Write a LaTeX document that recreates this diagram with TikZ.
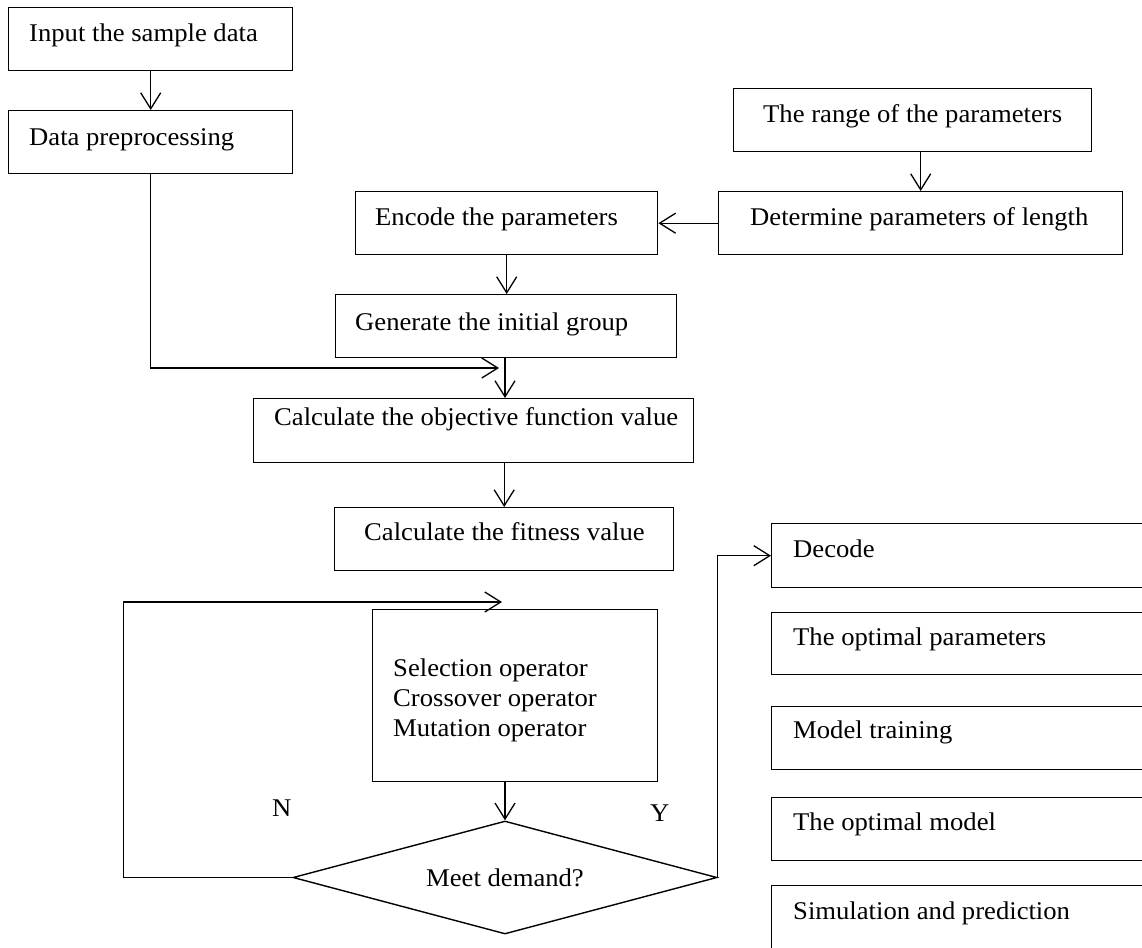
\documentclass[tikz,border=0pt]{standalone}
\usepackage{fontspec}
\setmainfont{Liberation Serif}[FakeStretch=1.045]
\usetikzlibrary{arrows.meta,shapes.geometric}
\begin{document}
\begin{tikzpicture}[x=1pt,y=-1pt,
  box/.style={draw,line width=1.4pt,anchor=north west,inner sep=0pt},
  lbl/.style={anchor=base west,inner sep=0pt,font=\fontsize{25.5}{30}\selectfont},
  arr/.style={line width=1.4pt,-{Straight Barb[length=16pt,width=20pt,line width=1.3pt]}},
  line/.style={line width=1.4pt}]
\useasboundingbox (0,0) rectangle (1142,947);
\clip (0,0) rectangle (1142,947);
% boxes
\node[box,minimum width=284pt,minimum height=63pt] (input) at (8,7) {};
\node[box,minimum width=284pt,minimum height=63pt] (data) at (8,110) {};
\node[box,minimum width=358pt,minimum height=63pt] (range) at (733,88) {};
\node[box,minimum width=404pt,minimum height=63pt] (det) at (718,191) {};
\node[box,minimum width=302pt,minimum height=63pt] (enc) at (355,191) {};
\node[box,minimum width=341pt,minimum height=63pt] (gen) at (335,294) {};
\node[box,minimum width=440pt,minimum height=64pt] (obj) at (253,398) {};
\node[box,minimum width=339pt,minimum height=63pt] (fit) at (334,507) {};
\node[box,minimum width=285pt,minimum height=172pt] (sel) at (372,609) {};
\node[box,minimum width=400pt,minimum height=64pt] (dec) at (771,523) {};
\node[box,minimum width=400pt,minimum height=62pt] (opt) at (771,612) {};
\node[box,minimum width=400pt,minimum height=63pt] (mt) at (771,706) {};
\node[box,minimum width=400pt,minimum height=63pt] (om) at (771,797) {};
\node[box,minimum width=400pt,minimum height=100pt] (sim) at (771,885) {};
\node[draw,line width=1.4pt,diamond,aspect=3.75,inner sep=0pt,minimum width=424pt,minimum height=113pt,
      font=\fontsize{25.5}{30}\selectfont] (dia) at (505,877.5) {Meet demand?};
% texts
\node[lbl] (tinput) at (29,42) {Input the sample data};
\node[lbl] (tdata) at (29,145) {Data preprocessing};
\node[lbl] (trange) at (763,123) {The range of the parameters};
\node[lbl] (tdet) at (750,225) {Determine parameters of length};
\node[lbl] (tenc) at (375,225) {Encode the parameters};
\node[lbl] (tgen) at (355,330) {Generate the initial group};
\node[lbl] (tobj) at (274,425) {Calculate the objective function value};
\node[lbl] (tfit) at (364,540) {Calculate the fitness value};
\node[lbl] (tsel1) at (393,676) {Selection operator};
\node[lbl] (tsel2) at (393,706) {Crossover operator};
\node[lbl] (tsel3) at (393,736) {Mutation operator};
\node[lbl] (tdec) at (793,557) {Decode};
\node[lbl] (topt) at (793,645) {The optimal parameters};
\node[lbl] (tmt) at (793,738) {Model training};
\node[lbl] (tom) at (793,830) {The optimal model};
\node[lbl] (tsim) at (793,919) {Simulation and prediction};
\node[lbl] (lN) at (272,816) {N};
\node[lbl] (lY) at (650,821) {Y};
% connectors
\coordinate (feed) at (499,368);
\coordinate (looptip) at (502,602);
\draw[arr] (input.south) -- (data.north);
\draw[arr] (det.north |- range.south) -- (det.north);
\draw[arr] (det.west) -- (enc.east);
\draw[arr] (enc.south) -- (enc.south |- gen.north);
\draw[arr] (data.south) |- (feed);
\draw[arr] (dia.north |- gen.south) -- (dia.north |- obj.north);
\draw[arr] (fit.north |- obj.south) -- (fit.north);
\draw[arr] (dia.north |- sel.south) -- (dia.north);
\draw[arr] (dia.west) -- ++(-169,0) |- (looptip);
\draw[arr] (dia.east) |- (dec.west);
\end{tikzpicture}
\end{document}
